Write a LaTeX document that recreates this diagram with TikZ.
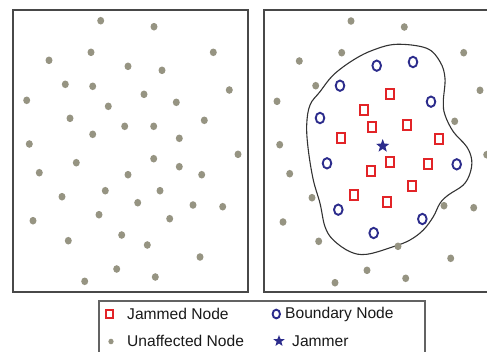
\documentclass[tikz,border=0pt]{standalone}
\usepackage{fontspec}
\setmainfont{Liberation Sans}
\usetikzlibrary{shapes.geometric}
\definecolor{dotgray}{RGB}{150,148,130}
\definecolor{bndblue}{RGB}{44,44,140}
\definecolor{jamred}{RGB}{226,36,40}
\definecolor{framegray}{RGB}{72,72,72}
\tikzset{
  panel/.style={draw=framegray, line width=1.6pt},
  legendbox/.style={draw=framegray!85, line width=1.1pt},
  udot/.style={ellipse, fill=dotgray, draw=none, inner sep=0pt,
    minimum width=7pt, minimum height=7.6pt},
  bnode/.style={ellipse, draw=bndblue, line width=1.9pt, inner sep=0pt,
    minimum width=8.6pt, minimum height=10.4pt},
  jnode/.style={rectangle, draw=jamred, line width=1.9pt, inner sep=0pt,
    minimum width=8.2pt, minimum height=9.8pt},
  jammer/.style={star, star points=5, star point ratio=2.4, fill=bndblue,
    draw=none, inner sep=0pt, minimum size=14pt},
  region/.style={draw=black!80, line width=1.1pt},
  legtext/.style={anchor=west, inner sep=0pt, font=\fontsize{15.6}{18}\selectfont, text=black!90}
}
\begin{document}
\begin{tikzpicture}[x=1pt, y=-1pt]
\useasboundingbox (0,0) rectangle (487,351);
\clip (0,0) rectangle (487,351);

% left panel: all nodes unaffected
\draw[panel] (13,10) rectangle (248,292);
\foreach \x/\y [count=\i] in {100.7/20.7, 154/26.7, 91/52.3, 49/60.3, 213.3/52.3,
  128/66.3, 162/70.3, 65.3/84.3, 92.7/86.3, 229.3/90, 26.7/100.3, 144/94.3,
  176.3/102.3, 108.3/106.3, 70/118.3, 204.3/120.3, 124.7/126.3, 153.7/126.3,
  92.7/134.3, 179.3/138.3, 29.3/144, 238/154.3, 153.7/158.7, 76.3/162.7,
  179.3/166.7, 39.3/172.7, 128/174.7, 201.7/174.7, 105.3/190.7, 160/190.7,
  62/196.7, 137.7/202.7, 193/205, 222.7/206.7, 99/214.7, 169.7/218.7,
  33/220.7, 121.7/235, 68.3/240.7, 147.3/245, 200/257, 116.7/269,
  155.3/277, 84.7/281.3}
  \node[udot] (l\i) at (\x,\y) {};

% right panel: jammed region around the jammer
\draw[panel] (264,10) rectangle (499,292);
\draw[region] plot[smooth cycle, tension=0.6] coordinates {
  (396.7,44.3) (426.7,48.3) (440,61.7) (445,78.3) (443.3,101.7) (445,115)
  (453.3,131.7) (466.7,146.7) (471.7,160) (470,173.3) (463.3,185) (448.3,195)
  (440,203.3) (433.3,216.7) (423.3,230) (410,240) (393.3,246.7) (366.7,254.3)
  (350,251.7) (333.3,240) (325,226.7) (320,203.3) (313.3,180) (308.3,150)
  (306.7,125) (310,105) (320,91.7) (333.3,75) (353.3,60) (373.3,50)};

\foreach \x/\y [count=\i] in {351/21, 404.3/27, 341.7/52.7, 299.3/61, 463.7/52.7,
  315.7/85.7, 480/90.3, 277/101.3, 454.7/121.3, 279.7/144.7, 486.7/154.7,
  289.7/173.7, 312/197.7, 444/205.7, 473.7/207.7, 283/222, 318.7/241.3,
  398/246.3, 450.7/258.3, 367/270.3, 405.7/278.3, 335/282.7}
  \node[udot] (r\i) at (\x,\y) {};

\foreach \x/\y [count=\i] in {376.7/65.7, 413/62, 340/85.7, 431/101.7, 320/118,
  327/163.3, 456.7/164.3, 338.3/209.7, 422.3/219, 373.7/233}
  \node[bnode] (b\i) at (\x,\y) {};

\foreach \x/\y [count=\i] in {389.7/93.7, 364/109.7, 407/125, 371.7/127,
  340.7/138, 439/139.3, 390/162, 427.7/163.7, 370.7/170.7, 412/186,
  353.7/194.7, 386.7/202}
  \node[jnode] (j\i) at (\x,\y) {};

\node[jammer] (jam) at (382.7,146) {};

% legend
\draw[legendbox] (99,301) rectangle (425,362);
\node[jnode, minimum width=7.4pt, minimum height=8.4pt] (kj) at (109.5,314) {};
\node[legtext] (tj) at (127,314) {Jammed Node};
\node[bnode, minimum width=7.4pt, minimum height=8.8pt] (kb) at (276.3,314) {};
\node[legtext] (tb) at (285,314) {Boundary Node};
\node[udot, minimum width=5.2pt, minimum height=5.6pt] (ku) at (111,341.5) {};
\node[legtext] (tu) at (127,341) {Unaffected Node};
\node[jammer, minimum size=12pt] (kr) at (279,341) {};
\node[legtext] (tr) at (292,341) {Jammer};
\end{tikzpicture}
\end{document}
